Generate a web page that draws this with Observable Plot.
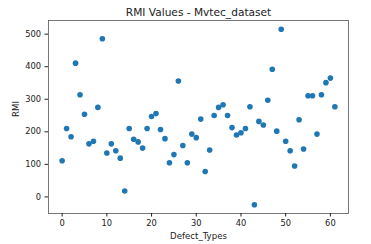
<!DOCTYPE html>
<html><head><meta charset="utf-8">
<script src="https://cdn.jsdelivr.net/npm/d3@7"></script>
<script src="https://cdn.jsdelivr.net/npm/@observablehq/plot@0.6"></script>
<style>body{margin:0;background:#fff;}</style>
</head><body><div id="chart"></div>
<script>
const rmi = [111,210,185,411,314,254,163,171,275,486,135,163,142,119,18,210,177,169,150,210,247,256,207,179,105,130,356,158,105,193,182,239,78,144,250,275,283,250,213,190,197,210,277,-24,232,221,297,392,202,515,171,142,95,237,147,311,311,193,314,351,365,277];
const xTicks = [0,10,20,30,40,50,60];
const yTicks = [0,100,200,300,400,500];
const title = "RMI Values - Mvtec_dataset";
const xLabel = "Defect_Types";
const yLabel = "RMI";
const data = rmi.map((v,i)=>({i, v}));
const chart = Plot.plot({
  width: 371, height: 244,
  marginLeft: 48, marginRight: 23, marginTop: 20, marginBottom: 31,
  style: {fontFamily: "DejaVu Sans", fontSize: "8.3px", color: "#222", background: "#fff"},
  x: {domain: [-3.05, 64.05]},
  y: {domain: [-51, 542]},
  marks: [
    Plot.frame({stroke: "#555", strokeWidth: 0.8}),
    Plot.axisX({ticks: xTicks, tickSize: 3.5, tickPadding: 3, label: null, fontSize: 8.3}),
    Plot.axisY({ticks: yTicks, tickSize: 3.5, tickPadding: 4, label: null, fontSize: 8.3}),
    Plot.dot(data, {x: "i", y: "v", r: 2.8, fill: "#1f77b4", stroke: "none"}),
    Plot.text([title], {frameAnchor: "top", lineAnchor: "bottom", dy: -5, fontSize: 10.6, fill: "#222"}),
    Plot.text([xLabel], {frameAnchor: "bottom", lineAnchor: "bottom", dy: 25, fontSize: 8.6, fill: "#222"}),
    Plot.text([yLabel], {frameAnchor: "left", lineAnchor: "bottom", dx: -30, rotate: -90, fontSize: 8.6, fill: "#222"})
  ]
});
document.getElementById("chart").append(chart);
</script></body></html>
